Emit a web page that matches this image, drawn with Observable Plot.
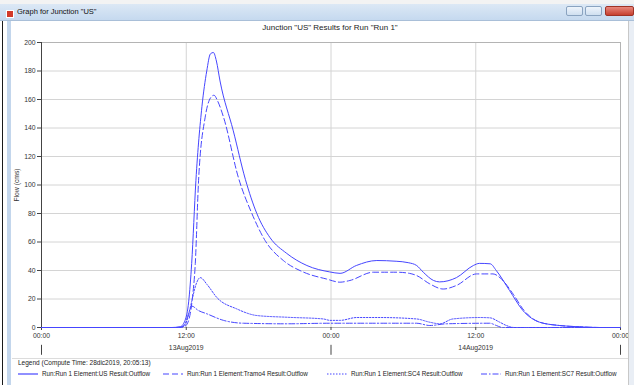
<!DOCTYPE html>
<html>
<head>
<meta charset="utf-8">
<script src="https://cdn.jsdelivr.net/npm/d3@7"></script>
<script src="https://cdn.jsdelivr.net/npm/@observablehq/plot@0.6"></script>
<style>
  body { margin: 0; width: 634px; height: 385px; overflow: hidden; position: relative;
         background: #fff; font-family: "Liberation Sans", Arial, sans-serif; color: #222; }
  .abs { position: absolute; }
  #topstrip { left: 0; top: 0; width: 634px; height: 4px; background: #f3f3f3; }
  #titlebar { left: 0; top: 4px; width: 634px; height: 16px;
              background: linear-gradient(#dce8f5, #c5d9ef); border-bottom: 1px solid #a9bfd8; }
  #titlebar .txt { left: 17px; top: 3px; font-size: 7.5px; color: #111; }
  #icon { left: 6px; top: 6px; width: 8px; height: 8px; background: #d23a2a; border: 1px solid #fff; box-sizing: border-box; }
  .btn { top: 6px; height: 10px; border: 1px solid #8aa3c0; border-radius: 2px;
         background: linear-gradient(#eef4fb, #cfdff0); box-sizing: border-box; }
  #bmin { left: 566px; width: 17px; }
  #bres { left: 585px; width: 17px; }
  #bclose { left: 605px; width: 29px; background: linear-gradient(#e8877d, #c6402f); border-color: #9e3226; }
  #leftdark { left: 2px; top: 21px; width: 1px; height: 364px; background: #1a1a1a; }
  #leftblue { left: 7px; top: 21px; width: 4px; height: 364px; background: #c3d6ec; }
  #rightframe { left: 628px; top: 21px; width: 6px; height: 364px; background: #e9eef5; border-left: 1px solid #c8c8c8; }
  #title { left: 12px; top: 23px; width: 636px; text-align: center; font-size: 8px; color: #222; }
  #chart { left: 0; top: 34px; }
  #legendline { left: 12px; top: 358px; width: 616px; height: 1px; background: #dcdcdc; }
  #legendhead { left: 18px; top: 359px; font-size: 6.5px; color: #222; }
  .item { top: 370px; height: 8px; font-size: 6.3px; line-height: 8px; color: #222; white-space: nowrap; }
  .item svg { position: absolute; left: 0; top: 2px; }
  .item span { position: absolute; left: 24px; top: 0; }
</style>
</head>
<body>
<div id="topstrip" class="abs"></div>
<div id="titlebar" class="abs"><div id="icon" class="abs"></div><div class="txt abs">Graph for Junction "US"</div></div>
<div id="bmin" class="btn abs"></div>
<div id="bres" class="btn abs"></div>
<div id="bclose" class="btn abs"></div>
<div id="title" class="abs">Junction "US" Results for Run "Run 1"</div>
<div id="chart" class="abs"></div>
<div id="legendline" class="abs"></div>
<div id="legendhead" class="abs">Legend (Compute Time: 28dic2019, 20:05:13)</div>
<div id="legend"></div>
<div id="leftdark" class="abs"></div>
<div id="leftblue" class="abs"></div>
<div id="rightframe" class="abs"></div>
<script>
// Outflow hydrographs, hours after 13Aug2019 00:00, flow in cms
const usHours = [0, 10.8, 11.5, 11.9, 12.2, 12.45, 12.8, 13.3, 13.7, 14.0, 14.25, 14.5, 14.8, 15.9, 16.9, 17.85, 18.95, 20.33, 22.0, 23.9, 24.75, 26.1, 27.8, 29.4, 30.4, 31.1, 31.65, 32.5, 33.0, 34.4, 35.8, 36.3, 37.2, 37.7, 38.8, 39.9, 41.3, 42.95, 44.6, 46.3, 48];
const usFlow  = [0, 0, 0.5, 5, 18, 45, 103, 155, 180, 192, 193, 187, 173, 138, 104, 80, 63, 52, 43.5, 39, 38, 43.5, 47, 46.5, 45.5, 43.5, 38.8, 33, 32, 35, 43.5, 45, 44.7, 40, 26, 12, 3.7, 1.4, 0.5, 0, 0];

const tramo4Hours = [0, 11.0, 11.9, 12.2, 12.5, 12.75, 13.02, 13.57, 14.0, 14.3, 14.6, 15.09, 16.33, 17.44, 18.54, 20.05, 21.68, 23.64, 24.75, 25.57, 27.5, 29.44, 30.5, 31.09, 32.19, 33.3, 34.4, 36.06, 37.43, 38.13, 39.09, 40.0, 41.3, 42.95, 44.6, 46.3, 48];
const tramo4Flow  = [0, 0, 1, 5, 20, 45, 103, 147.6, 161, 163, 159, 147.6, 105, 80, 61, 47, 39, 34, 31.8, 33, 38.8, 38.8, 38, 36.5, 30.6, 27, 29.5, 37.6, 37.6, 34, 23.6, 12, 3.7, 1.4, 0.5, 0, 0];

const sc4Hours = [0, 11.6, 11.9, 12.06, 12.47, 12.8, 13.16, 13.74, 14.54, 16.2, 17.85, 20.33, 23.36, 23.92, 24.75, 26.13, 28.06, 31.09, 32.19, 33.02, 34.1, 36.33, 37.16, 37.99, 38.54, 39.2, 48];
const sc4Flow  = [0, 0, 2, 5, 19, 30, 35, 30, 21, 13, 8.4, 7.2, 6, 5, 5, 7, 7, 6, 3.7, 2.6, 6, 7, 6.8, 3.7, 1.4, 0, 0];

const sc7Hours = [0, 11.5, 11.92, 12.2, 12.47, 12.99, 13.71, 15.09, 16.74, 20.33, 23.92, 31.09, 32.19, 33.57, 37.16, 37.71, 38.2, 48];
const sc7Flow  = [0, 0, 3, 10, 15, 12, 9.6, 5, 3, 2.6, 3, 3, 1.4, 2.6, 3, 1.4, 0, 0];

const seriesNames = [
  "Run:Run 1 Element:US Result:Outflow",
  "Run:Run 1 Element:Tramo4 Result:Outflow",
  "Run:Run 1 Element:SC4 Result:Outflow",
  "Run:Run 1 Element:SC7 Result:Outflow"
];
const seriesDash = [null, "6,3", "1.5,1.5", "6,2,1.5,2"];
const legendLeft = [18, 163, 327, 481];

const yTicks = [0, 20, 40, 60, 80, 100, 120, 140, 160, 180, 200];
const xTickHours = [0, 12, 24, 36, 48];
const gridHours = [12, 24, 36];
const dayHours = [0, 24, 48];
const dateLabels = ["13Aug2019", "14Aug2019"];
const dateLabelHours = [12, 36];

const t0 = Date.UTC(2019, 7, 13);
const toDate = h => new Date(t0 + h * 3600000);
const rows = (hs, vs) => hs.map((h, i) => ({t: toDate(h), v: vs[i]}));

const series = [
  rows(usHours, usFlow),
  rows(tramo4Hours, tramo4Flow),
  rows(sc4Hours, sc4Flow),
  rows(sc7Hours, sc7Flow)
];
const lineColor = "#4646ff";

const chart = Plot.plot({
  width: 634,
  height: 324,
  marginLeft: 41,
  marginRight: 14,
  marginTop: 8,
  marginBottom: 31,
  style: {fontFamily: "Liberation Sans, Arial, sans-serif", fontSize: "6.8px", background: "transparent", color: "#333", overflow: "visible"},
  x: {type: "utc", domain: [toDate(0), toDate(48)]},
  y: {domain: [0, 200]},
  marks: [
    Plot.gridY(yTicks, {stroke: "#d4d4d4", strokeOpacity: 1}),
    Plot.gridX(gridHours.map(toDate), {stroke: "#d4d4d4", strokeOpacity: 1}),
    Plot.frame({stroke: "#b4b4b4"}),
    Plot.ruleX([toDate(0)], {stroke: "#444"}),
    Plot.axisY(yTicks, {tickSize: 4, tickPadding: 2, stroke: "#444", label: "Flow (cms)", labelAnchor: "center", labelArrow: "none", labelOffset: 27}),
    Plot.axisX(xTickHours.map(toDate), {tickSize: 3, tickPadding: 3, stroke: "#444", tickFormat: d3.utcFormat("%H:%M"), label: null}),
    Plot.text(dateLabelHours.map((h, i) => ({t: toDate(h), s: dateLabels[i]})), {x: "t", text: "s", frameAnchor: "bottom", dy: 22, fill: "#333"}),
    Plot.ruleX(dayHours.map(toDate), {y1: -12.5, y2: -19.5, stroke: "#444"}),
    ...series.map((d, i) => Plot.line(d, {
      x: "t", y: "v", curve: "monotone-x",
      stroke: lineColor, strokeWidth: 1,
      strokeDasharray: seriesDash[i] || undefined
    }))
  ]
});
document.getElementById("chart").appendChild(chart);

// Legend row with line samples drawn in each series' style
const NS = "http://www.w3.org/2000/svg";
const legend = document.getElementById("legend");
seriesNames.forEach((name, i) => {
  const item = document.createElement("div");
  item.className = "item abs";
  item.style.left = legendLeft[i] + "px";
  const svg = document.createElementNS(NS, "svg");
  svg.setAttribute("width", "20");
  svg.setAttribute("height", "4");
  const ln = document.createElementNS(NS, "line");
  ln.setAttribute("x1", "0");
  ln.setAttribute("x2", "20");
  ln.setAttribute("y1", "2");
  ln.setAttribute("y2", "2");
  ln.setAttribute("stroke", lineColor);
  ln.setAttribute("stroke-width", "1.2");
  if (seriesDash[i]) ln.setAttribute("stroke-dasharray", seriesDash[i]);
  svg.appendChild(ln);
  const span = document.createElement("span");
  span.textContent = name;
  item.appendChild(svg);
  item.appendChild(span);
  legend.appendChild(item);
});
</script>
</body>
</html>
